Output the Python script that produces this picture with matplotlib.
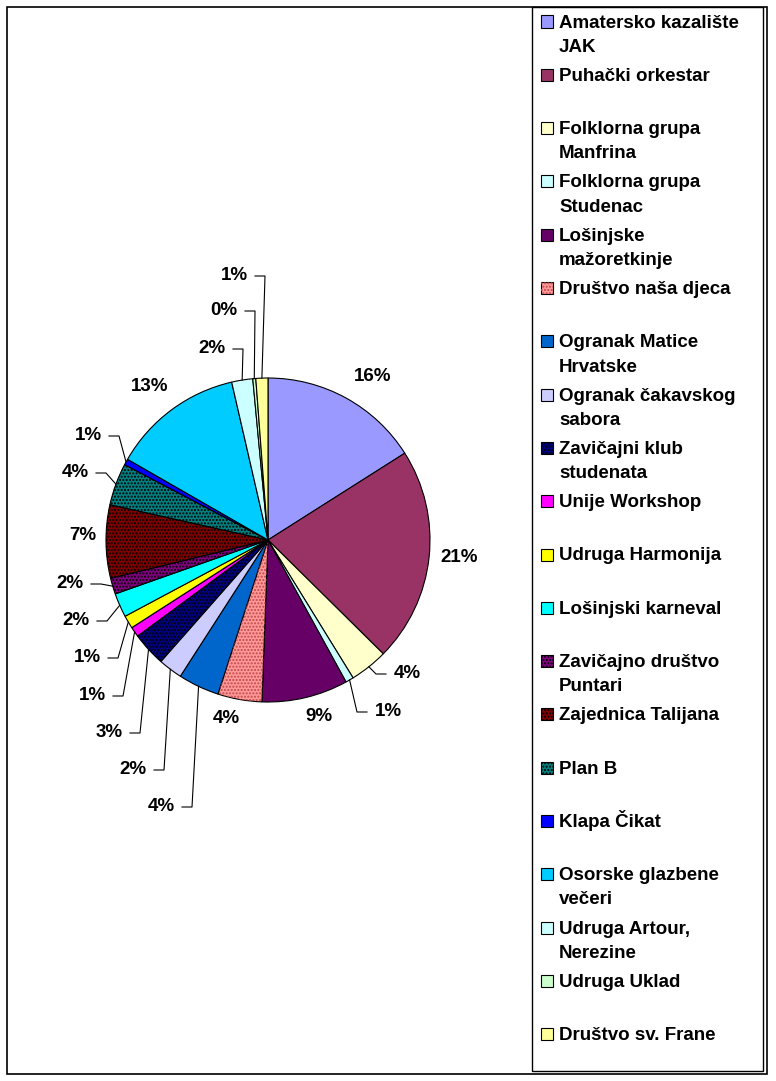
import numpy as np
import matplotlib.pyplot as plt
from matplotlib.patches import Rectangle, Wedge

plt.rcParams['font.family'] = ['Liberation Sans', 'DejaVu Sans']
plt.rcParams['hatch.linewidth'] = 1.0

# --- data -------------------------------------------------------------
groups = ['Amatersko kazalište\nJAK', 'Puhački orkestar',
          'Folklorna grupa\nManfrina', 'Folklorna grupa\nStudenac',
          'Lošinjske\nmažoretkinje', 'Društvo naša djeca',
          'Ogranak Matice\nHrvatske', 'Ogranak čakavskog\nsabora',
          'Zavičajni klub\nstudenata', 'Unije Workshop', 'Udruga Harmonija',
          'Lošinjski karneval', 'Zavičajno društvo\nPuntari',
          'Zajednica Talijana', 'Plan B', 'Klapa Čikat',
          'Osorske glazbene\nvečeri', 'Udruga Artour,\nNerezine',
          'Udruga Uklad', 'Društvo sv. Frane']
shares = [16.0, 21.4, 3.8, 0.8, 8.6, 4.4, 4.1, 2.4, 3.4, 1.0,
          1.3, 2.4, 1.6, 7.3, 4.2, 0.6, 13.1, 2.1, 0.3, 1.2]
colors = ['#9999FF', '#993366', '#FFFFCC', '#CCFFFF', '#660066', '#FF9999',
          '#0066CC', '#CCCCFF', '#000080', '#FF00FF', '#FFFF00', '#00FFFF',
          '#800080', '#800000', '#008080', '#0000FF', '#00CCFF', '#CCFFFF',
          '#CCFFCC', '#FFFF99']
dotted = {5: '#C04848', 8: 'black', 12: 'black', 13: 'black', 14: 'black'}

# label centres in picture pixels, and which labels get a leader line
label_px = [(373, 377), (459, 558), (407, 674), (388, 712), (319, 717),
            (226, 719), (161, 807), (133, 770), (109, 733), (92, 696),
            (87, 658), (76, 621), (70, 584), (83, 536), (75, 473),
            (88, 436), (150, 387), (212, 349), (224, 311), (234, 276)]
leader = [False, False, True, True, False, False, True, True, True, True,
          True, True, True, False, True, True, False, True, True, True]

W, H = 776, 1081
cx, cy, R = 268, 540, 162
fs = 13.5

fig = plt.figure(figsize=(W / 100, H / 100), dpi=100)
ax = fig.add_axes([7 / W, 1 - 1073 / H, 525 / W, 1066 / H])

wedges, _ = ax.pie(shares, colors=colors, startangle=90, counterclock=False,
                   wedgeprops=dict(edgecolor='black', linewidth=0.8))
for i, hc in dotted.items():
    w = wedges[i]
    ax.add_patch(Wedge((0, 0), 1, w.theta1, w.theta2, facecolor='none',
                       edgecolor=hc, linewidth=0, hatch='.....'))

ax.set_aspect('auto')
ax.set_xlim((7 - cx) / R, (532 - cx) / R)
ax.set_ylim((cy - 1073) / R, (cy - 7) / R)
ax.axis('off')

total = sum(shares)
for i, w in enumerate(wedges):
    px, py = label_px[i]
    x, y = (px - cx) / R, (cy - py) / R
    pct = round(shares[i] / total * 100)
    ax.text(x, y, f'{pct}%', ha='center', va='center', fontsize=fs,
            fontweight='bold')
    if leader[i]:
        mid = np.deg2rad((w.theta1 + w.theta2) / 2)
        ex, ey = np.cos(mid), np.sin(mid)
        side = 1 if ex > x else -1
        x0 = x + side * 21 / R
        x1 = x + side * 31 / R
        ax.plot([x0, x1, ex], [y, y, ey], color='black', lw=0.8)

# --- legend, drawn in picture pixels ---------------------------------
def fx(px):
    return px / W


def fy(py):
    return 1 - py / H


for i, name in enumerate(groups):
    base = 27.5 + 53.3 * i
    sq = Rectangle((fx(541), fy(base)), 12 / W, 12 / H, transform=fig.transFigure,
                   facecolor=colors[i], edgecolor='black', lw=0.8)
    fig.add_artist(sq)
    if i in dotted:
        fig.add_artist(Rectangle((fx(541), fy(base)), 12 / W, 12 / H,
                                 transform=fig.transFigure, facecolor='none',
                                 edgecolor=dotted[i], lw=0, hatch='.....'))
    for k, line in enumerate(name.split('\n')):
        fig.text(fx(559), fy(base + 24.2 * k), line, ha='left', va='baseline',
                 fontsize=fs, fontweight='bold')

# frames
fig.add_artist(Rectangle((fx(7), fy(1074)), 760 / W, 1067 / H,
                         transform=fig.transFigure, fill=False,
                         edgecolor='black', lw=1.2))
fig.add_artist(Rectangle((fx(532), fy(1071)), 231 / W, 1064 / H,
                         transform=fig.transFigure, fill=False,
                         edgecolor='black', lw=1.0))

fig.savefig('out.png', dpi=100)
